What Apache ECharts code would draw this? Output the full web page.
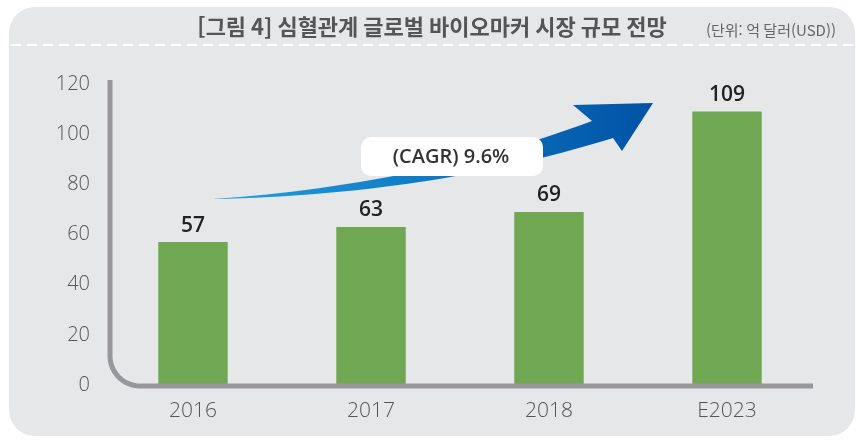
<!DOCTYPE html>
<html lang="ko">
<head>
    <meta charset="UTF-8">
    <title>biomarker</title>
    <script src="https://cdn.jsdelivr.net/npm/echarts@6/dist/echarts.min.js"></script>
    <style>
        html, body { margin: 0; padding: 0; background: #fff; }
    </style>
</head>
<body>
<div id="main" style="width: 857px;height:440px;"></div>
</body>

<script type="text/javascript">

    var categories = ['2016', '2017', '2018', 'E2023'];
    var values = [57, 63, 69, 109];
    var titleText = '[그림 4] 심혈관계 글로벌 바이오마커 시장 규모 전망';
    var unitText = '(단위: 억 달러(USD))';
    var cagrText = '(CAGR) 9.6%';

    // quadratic bezier sampling for the arrow body
    var quad = function (p0, c, p1, n) {
        var pts = [];
        for (var i = 0; i <= n; i++) {
            var t = i / n, u = 1 - t;
            pts.push([u * u * p0[0] + 2 * u * t * c[0] + t * t * p1[0],
                      u * u * p0[1] + 2 * u * t * c[1] + t * t * p1[1]]);
        }
        return pts;
    };

    var arrowPts = quad([212, 199], [420, 185], [592, 121], 30)
        .concat([[573, 105], [653, 103], [622, 151]])
        .concat(quad([613, 138], [430, 195], [212, 199], 30));

    // L-shaped axis with rounded corner
    var axisPts = [[110, 80], [110, 356]];
    for (var i = 1; i < 12; i++) {
        var a = Math.PI - (Math.PI / 2) * (i / 12);
        axisPts.push([140 + 30 * Math.cos(a), 356 + 30 * Math.sin(a)]);
    }
    axisPts.push([140, 386], [813, 386]);

    var myChart = echarts.init(document.getElementById('main'));

    var option = {
        backgroundColor: '#fff',
        animation: false,
        grid: {
            left: 104,
            right: 41,
            top: 84,
            bottom: 55
        },
        xAxis: {
            type: 'category',
            data: categories,
            axisLine: {show: false},
            axisTick: {show: false},
            axisLabel: {
                margin: 16,
                color: '#555',
                fontSize: 21,
                fontWeight: 300,
                fontFamily: 'Open Sans'
            }
        },
        yAxis: {
            type: 'value',
            min: 0,
            max: 120,
            interval: 20,
            axisLine: {show: false},
            axisTick: {show: false},
            splitLine: {show: false},
            axisLabel: {
                margin: 14,
                color: '#555',
                fontSize: 20,
                fontWeight: 300,
                fontFamily: 'Open Sans'
            }
        },
        graphic: [
            {
                type: 'rect',
                z: -100,
                shape: {x: 9, y: 7, width: 846, height: 429, r: 26},
                style: {fill: '#e6e7e9'}
            },
            {
                type: 'line',
                z: -90,
                shape: {x1: 11, y1: 45, x2: 853, y2: 45},
                style: {stroke: '#fff', lineWidth: 2, lineDash: [10, 6]}
            },
            {
                type: 'text',
                x: 432,
                y: 27,
                style: {
                    text: titleText,
                    fill: '#555',
                    font: 'bold 22px "Noto Sans CJK KR"',
                    align: 'center',
                    verticalAlign: 'middle'
                }
            },
            {
                type: 'text',
                x: 771,
                y: 30,
                style: {
                    text: unitText,
                    fill: '#666',
                    font: '15px "Noto Sans CJK KR"',
                    align: 'center',
                    verticalAlign: 'middle'
                }
            },
            {
                type: 'polyline',
                z: 50,
                shape: {points: axisPts},
                style: {stroke: '#97979b', lineWidth: 5, fill: null}
            },
            {
                type: 'polygon',
                z: 60,
                shape: {points: arrowPts},
                style: {
                    fill: new echarts.graphic.LinearGradient(0, 0, 1, 0, [
                        {offset: 0, color: '#1fa0e2'},
                        {offset: 1, color: '#0052a5'}
                    ])
                }
            },
            {
                type: 'rect',
                z: 70,
                shape: {x: 361, y: 137, width: 182, height: 39, r: 10},
                style: {fill: '#fff'}
            },
            {
                type: 'text',
                z: 71,
                x: 451,
                y: 157,
                style: {
                    text: cagrText,
                    fill: '#333',
                    font: '600 20px "Open Sans"',
                    align: 'center',
                    verticalAlign: 'middle'
                }
            }
        ],
        series: [
            {
                type: 'bar',
                data: values,
                barWidth: '39%',
                itemStyle: {color: '#70a752'},
                label: {
                    show: true,
                    position: 'top',
                    distance: 6,
                    color: '#222',
                    fontSize: 21,
                    fontWeight: 600,
                    fontFamily: 'Open Sans'
                }
            }
        ]
    };

    myChart.setOption(option);

</script>
</html>
